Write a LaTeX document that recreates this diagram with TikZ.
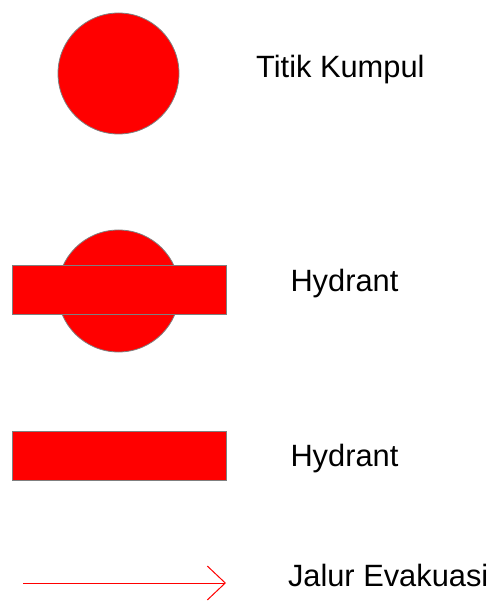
\documentclass[tikz,border=0pt]{standalone}
\usepackage{fontspec}
\setmainfont{Liberation Sans}
\usepackage{xcolor}
\usepackage{tikz}
\usetikzlibrary{positioning,arrows.meta}
\definecolor{signred}{HTML}{FF0000}
\definecolor{rim}{HTML}{7F7F7F}

\begin{document}
\begin{tikzpicture}[
    x=1pt, y=-1pt,
    spot/.style={circle, draw=rim, line width=0.8pt, fill=signred, minimum size=121pt, inner sep=0pt},
    bar/.style={rectangle, draw=rim, line width=0.8pt, fill=signred, minimum width=213.5pt, minimum height=49pt, inner sep=0pt},
    legend/.style={anchor=base west, inner sep=0pt, font=\fontsize{30.8pt}{36pt}\selectfont},
    evac/.style={-{Straight Barb[length=18pt, width=34pt]}, line width=1pt, draw=signred}
]
    \useasboundingbox (0,0) rectangle (496,601);

    % Assembly point
    \node[spot] (kumpul) at (118.5,73.5) {};
    \node[legend] (kumpul_lbl) at (256,77.3) {Titik Kumpul};

    % Hydrant with round base
    \node[spot, minimum size=122pt] (hyd_round) at (118.5,291) {};
    \node[bar] (hyd_bar) at (119.4,289.7) {};
    \node[legend] (hyd_lbl) at (290.3,291) {Hydrant};

    % Hydrant plain
    \node[bar] (hyd_plain) at (119.4,455.5) {};
    \node[legend] (plain_lbl) at (290.3,466) {Hydrant};

    % Evacuation route
    \coordinate (evac_start) at (23,583);
    \coordinate (evac_end) at (226,583);
    \draw[evac] (evac_start) -- (evac_end);
    \node[legend] (evac_lbl) at (287.8,586) {Jalur Evakuasi};
\end{tikzpicture}
\end{document}
